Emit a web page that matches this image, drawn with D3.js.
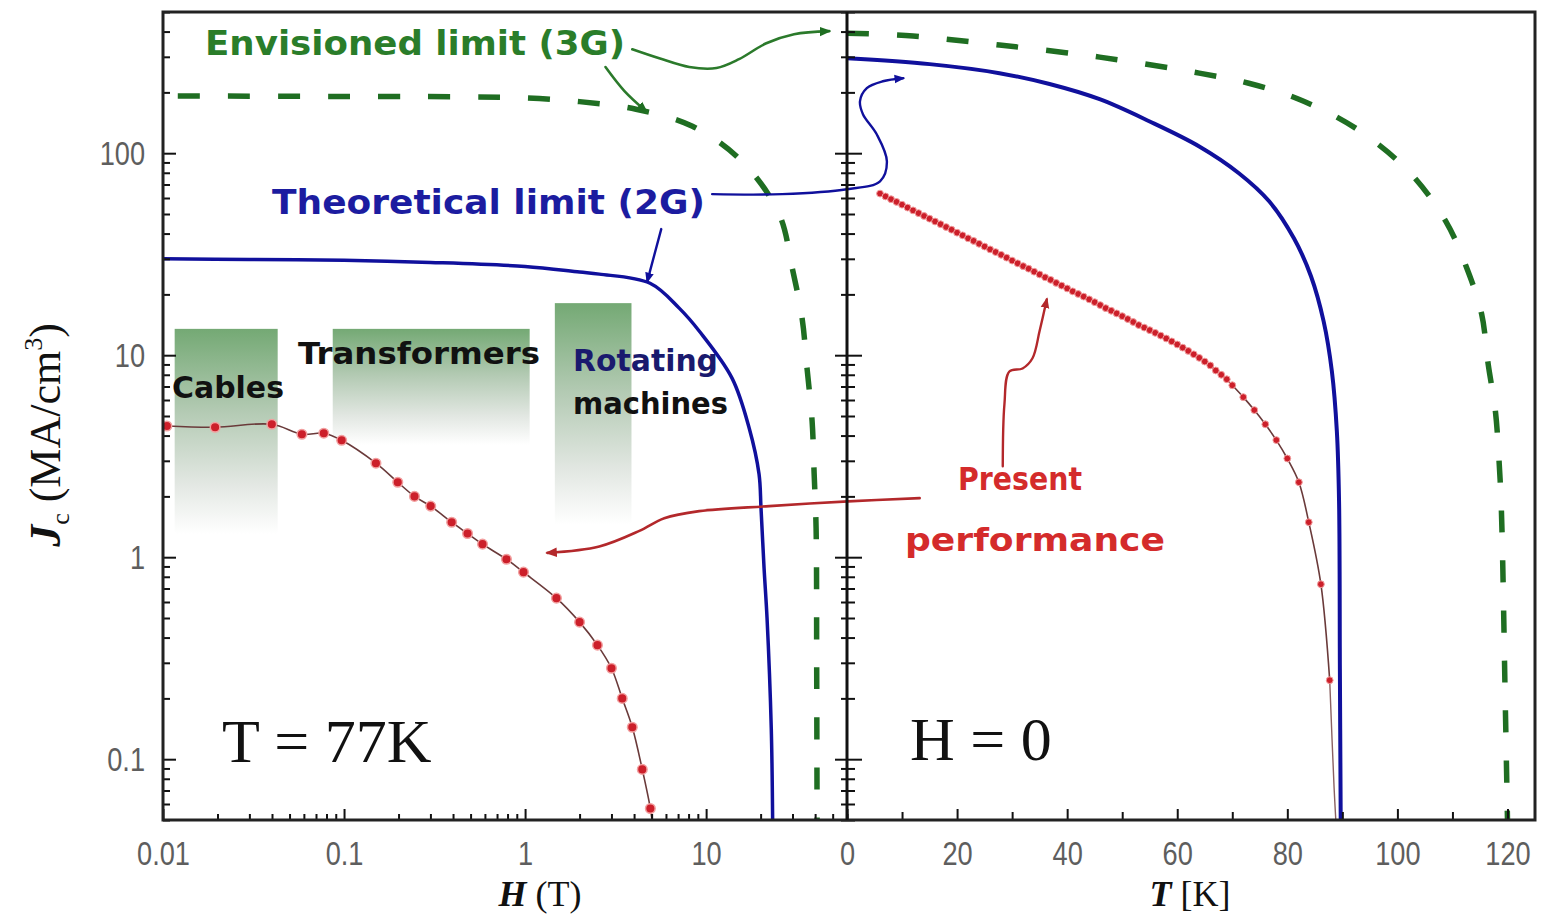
<!DOCTYPE html>
<html>
<head>
<meta charset="utf-8">
<script src="https://cdn.jsdelivr.net/npm/d3@7"></script>
<style>
  body { margin: 0; background: #fff; }
  svg { display: block; }
  .tick-label text { font-family: "Liberation Sans", Arial, sans-serif; font-size: 34px; fill: #5e5e5e; }
  .ax line { stroke: #111; stroke-width: 2; }
  .comic { font-family: "DejaVu Sans", sans-serif; font-weight: bold; }
  .serif { font-family: "Liberation Serif", "DejaVu Serif", serif; fill: #111; }
</style>
</head>
<body>
<svg id="chart" width="1548" height="919"></svg>
<script>
// --- DATA: Jc vs H at T = 77 K (MA/cm2) ---
const fieldPresentH  = [0.0105, 0.0194, 0.0399, 0.0585, 0.0773, 0.097, 0.150, 0.198, 0.245, 0.301, 0.393, 0.481, 0.582, 0.789, 0.98, 1.49, 2.0, 2.51, 3.0, 3.44, 3.91, 4.44, 4.92];
const fieldPresentJc = [4.46, 4.40, 4.55, 4.06, 4.11, 3.79, 2.92, 2.35, 2.00, 1.79, 1.49, 1.31, 1.16, 0.977, 0.843, 0.627, 0.477, 0.367, 0.282, 0.200, 0.144, 0.089, 0.057];
const field2GH  = [0.01, 0.03, 0.1, 0.3, 1, 2, 2.57, 4.9, 7.1, 9.2, 13.9, 17.3, 19.6, 20.1, 20.9, 21.7, 22.9, 23.3];
const field2GJc = [30, 29.8, 29.5, 28.8, 27.5, 25.8, 25.2, 22.7, 17.1, 13.1, 7.7, 4.35, 2.58, 1.75, 0.88, 0.50, 0.142, 0.05];
const field3GH  = [0.01, 0.1, 0.5, 1, 2, 4.1, 8.4, 15.8, 25.3, 29.9, 33.9, 36.1, 38.5, 39.5, 40.5, 40.8, 41];
const field3GJc = [192, 191, 190, 188, 180, 165, 136, 91, 50, 27, 15.2, 8.6, 4.7, 2.6, 1.39, 0.3, 0.05];

// --- DATA: Jc vs T at H = 0 ---
const tempPresentT  = [6, 7, 8, 9, 10, 11, 12, 13, 14, 15, 16, 17, 18, 19, 20, 21, 22, 23, 24, 25, 26, 27, 28, 29, 30,
                       31, 32, 33, 34, 35, 36, 37, 38, 39, 40, 41, 42, 43, 44, 45, 46, 47, 48, 49, 50, 51, 52, 53, 54, 55,
                       56, 57, 58, 59, 60, 61, 62, 63, 64, 65, 66, 67, 68, 69, 70, 72, 74, 76, 78, 80, 82.1, 83.9, 86.1, 87.7];
const tempPresentJc = [63.1, 61.1, 59.2, 57.4, 55.6, 53.8, 52.1, 50.5, 48.9, 47.4, 45.9, 44.5, 43.1, 41.8, 40.4, 39.2, 37.9, 36.8, 35.6, 34.5, 33.4, 32.4, 31.4, 30.4, 29.4,
                       28.5, 27.6, 26.8, 25.9, 25.1, 24.3, 23.6, 22.8, 22.1, 21.4, 20.7, 20.1, 19.5, 18.9, 18.3, 17.7, 17.1, 16.6, 16.1, 15.6, 15.1, 14.6, 14.1, 13.7, 13.3,
                       12.9, 12.5, 12.1, 11.7, 11.3, 10.9, 10.5, 10.1, 9.7, 9.3, 8.9, 8.4, 8.0, 7.6, 7.1, 6.2, 5.35, 4.55, 3.8, 3.08, 2.35, 1.49, 0.735, 0.246];
const tempTailT  = [87.7, 88.5, 88.9];
const tempTailJc = [0.246, 0.072, 0.045];
const temp2GT  = [0, 15, 27.7, 36.8, 45.9, 54.9, 64, 71.2, 76.7, 81.2, 84.3, 86.6, 88.1, 89.0, 89.4, 89.55, 89.7];
const temp2GJc = [295, 276, 249, 220, 185, 144, 108, 79.6, 57.8, 37.9, 24.6, 14.7, 8.3, 4.2, 1.89, 0.28, 0.05];
const temp3GT  = [0, 12, 27.7, 45.9, 64, 73, 82.1, 92.4, 102, 108.8, 112.6, 115.3, 116.5, 117.8, 118.5, 118.9, 119.6, 120];
const temp3GJc = [393, 380, 343, 299, 249, 222, 185, 133, 81.5, 46, 27, 16, 9.0, 5.3, 2.9, 1.69, 0.19, 0.05];

// --- TICKS ---
const hTickValues = [0.01, 0.1, 1, 10];
const hTickLabels = ['0.01', '0.1', '1', '10'];
const tTickValues = [0, 20, 40, 60, 80, 100, 120];
const tMinorValues = [10, 30, 50, 70, 90, 110];
const jTickValues = [0.1, 1, 10, 100];
const jTickLabels = ['0.1', '1', '10', '100'];

// --- APPLICATION RANGES (H in T, Jc in MA/cm2) ---
const appNames = ['Cables', 'Transformers', 'Rotating machines'];
const appHMin  = [0.0116, 0.0866, 1.46];
const appHMax  = [0.043, 1.06, 3.87];
const appJTop  = [13.5, 13.5, 18.1];
const appJEnd  = [1.3, 3.6, 1.45];

// --- ANNOTATION ARROWS (panel, x in data units, Jc) ---
const arrow3GRight = [['H', 3.91, 327], ['H', 5.51, 295], ['H', 8.07, 267], ['H', 11.4, 264], ['H', 15.2, 292], ['H', 21.5, 350], ['H', 30.6, 388], ['H', 47.8, 402]];
const arrow3GLeft  = [['H', 2.78, 267], ['H', 3.54, 203], ['H', 4.67, 161]];
const arrow2GRight = [['H', 10.8, 62.7], ['H', 26.3, 62.7], ['T', 0, 66.3], ['T', 6.0, 72.6], ['T', 7.25, 91], ['T', 5.4, 124], ['T', 2.9, 156], ['T', 2.36, 181], ['T', 3.6, 210], ['T', 6.5, 227], ['T', 10.2, 235]];
const arrow2GLeft  = [['H', 5.65, 42.1], ['H', 4.73, 23.2]];
const arrowPresentLeft = [['T', 13.2, 1.96], ['T', 0.2, 1.89], ['H', 22.3, 1.79], ['H', 9.16, 1.69], ['H', 5.87, 1.56], ['H', 4.28, 1.35], ['H', 2.57, 1.13], ['H', 1.33, 1.05]];
const arrowPresentUp   = [['T', 28.3, 2.82], ['T', 28.6, 5.7], ['T', 29.5, 8.3], ['T', 31.9, 8.6], ['T', 33.7, 9.66], ['T', 35.0, 13.2], ['T', 36.3, 18.9]];

const zip = (xs, ys) => xs.map((v, i) => [v, ys[i]]);

const frame = { left: 163, mid: 847, right: 1535, top: 12, bottom: 820 };
const green = '#1f6e22', blue = '#10109c', red = '#cc1f2a';

const xH = d3.scaleLog().domain([0.01, 60]).range([frame.left, frame.mid]);
const xT = d3.scaleLinear().domain([0, 125]).range([frame.mid, frame.right]);
const y = d3.scaleLog().domain([0.05, 500]).range([frame.bottom, frame.top]);

const svg = d3.select('#chart');
const defs = svg.append('defs');

// clip regions for each panel
defs.append('clipPath').attr('id', 'clip-h').append('rect')
    .attr('x', frame.left).attr('y', frame.top)
    .attr('width', frame.mid - frame.left).attr('height', frame.bottom - frame.top);
defs.append('clipPath').attr('id', 'clip-t').append('rect')
    .attr('x', frame.mid).attr('y', frame.top)
    .attr('width', frame.right - frame.mid).attr('height', frame.bottom - frame.top);

// fading green gradient for application boxes
const grad = defs.append('linearGradient').attr('id', 'app-fade')
    .attr('x1', 0).attr('y1', 0).attr('x2', 0).attr('y2', 1);
[[0, '#74a974'], [0.4, '#b3cab3'], [0.75, '#e2e7e2'], [1, '#ffffff']].forEach(s => {
    grad.append('stop').attr('offset', s[0]).attr('stop-color', s[1]);
});

// arrowheads
[['green', green], ['blue', blue], ['red', '#b3282b']].forEach(([name, col]) => {
    defs.append('marker').attr('id', 'ah-' + name)
        .attr('viewBox', '0 0 10 10').attr('refX', 8).attr('refY', 5)
        .attr('markerWidth', 4.5).attr('markerHeight', 4.5).attr('orient', 'auto')
        .append('path').attr('d', 'M0,1 L10,5 L0,9 z').attr('fill', col);
});

// --- application boxes ---
const gH = svg.append('g').attr('clip-path', 'url(#clip-h)');
appNames.forEach((name, i) => {
    gH.append('rect')
        .attr('x', xH(appHMin[i]))
        .attr('y', y(appJTop[i]))
        .attr('width', xH(appHMax[i]) - xH(appHMin[i]))
        .attr('height', y(appJEnd[i]) - y(appJTop[i]))
        .attr('fill', 'url(#app-fade)');
});

// --- curves, left panel ---
const smooth = d3.curveCatmullRom.alpha(0.5);
const lineH = d3.line().x(d => xH(d[0])).y(d => y(d[1])).curve(smooth);
const lineT = d3.line().x(d => xT(d[0])).y(d => y(d[1])).curve(smooth);

gH.append('path').attr('d', lineH(zip(field3GH, field3GJc)))
    .attr('fill', 'none').attr('stroke', green).attr('stroke-width', 5.5)
    .attr('stroke-dasharray', '22,28').attr('stroke-dashoffset', 35);
gH.append('path').attr('d', lineH(zip(field2GH, field2GJc)))
    .attr('fill', 'none').attr('stroke', blue).attr('stroke-width', 3.5);
gH.append('path').attr('d', lineH(zip(fieldPresentH, fieldPresentJc).concat([[5.1, 0.045]])))
    .attr('fill', 'none').attr('stroke', '#6a3a3a').attr('stroke-width', 1.6);
gH.selectAll('circle.pt').data(zip(fieldPresentH, fieldPresentJc)).enter()
    .append('circle').attr('class', 'pt')
    .attr('cx', d => xH(d[0])).attr('cy', d => y(d[1])).attr('r', 4.8)
    .attr('fill', red).attr('stroke', '#f2a0a0').attr('stroke-width', 1.5);

// --- curves, right panel ---
const gT = svg.append('g').attr('clip-path', 'url(#clip-t)');
gT.append('path').attr('d', lineT(zip(temp3GT, temp3GJc)))
    .attr('fill', 'none').attr('stroke', green).attr('stroke-width', 5.5)
    .attr('stroke-dasharray', '22,28').attr('stroke-dashoffset', 0);
gT.append('path').attr('d', lineT(zip(temp2GT, temp2GJc)))
    .attr('fill', 'none').attr('stroke', blue).attr('stroke-width', 4);
gT.append('path').attr('d', lineT(zip(tempPresentT, tempPresentJc)))
    .attr('fill', 'none').attr('stroke', '#6a3a3a').attr('stroke-width', 1.6);
gT.append('path').attr('d', lineT(zip(tempTailT, tempTailJc)))
    .attr('fill', 'none').attr('stroke', '#8a6060').attr('stroke-width', 1.4);
gT.selectAll('circle.pt').data(zip(tempPresentT, tempPresentJc)).enter()
    .append('circle').attr('class', 'pt')
    .attr('cx', d => xT(d[0])).attr('cy', d => y(d[1])).attr('r', 3.4)
    .attr('fill', red).attr('stroke', '#f2a0a0').attr('stroke-width', 1);

// --- annotation arrows ---
const place = p => p[0] === 'H' ? [xH(p[1]), y(p[2])] : [xT(p[1]), y(p[2])];
const arrowLine = d3.line().curve(d3.curveCatmullRom.alpha(0.5));
const drawArrow = (pts, col, name, w) => {
    svg.append('path').attr('d', arrowLine(pts.map(place)))
        .attr('fill', 'none').attr('stroke', col).attr('stroke-width', w)
        .attr('stroke-linecap', 'round').attr('marker-end', 'url(#ah-' + name + ')');
};
drawArrow(arrow3GRight, '#2b7a2b', 'green', 2.6);
drawArrow(arrow3GLeft, '#2b7a2b', 'green', 2.6);
drawArrow(arrow2GRight, blue, 'blue', 2.4);
drawArrow(arrow2GLeft, blue, 'blue', 2.4);
drawArrow(arrowPresentLeft, '#b3282b', 'red', 2.6);
drawArrow(arrowPresentUp, '#b3282b', 'red', 2.4);

// --- annotation texts ---
const comicLabel = (txt, x, yb, len, size, col) => {
    svg.append('text').attr('class', 'comic')
        .attr('x', x).attr('y', yb)
        .attr('font-size', size).attr('fill', col)
        .attr('textLength', len).attr('lengthAdjust', 'spacingAndGlyphs')
        .text(txt);
};
comicLabel('Envisioned limit (3G)', 205, 55, 420, 34, '#2a7d2a');
comicLabel('Theoretical limit (2G)', 272, 214, 433, 34, '#1c1ca0');
comicLabel('Cables', 172, 398, 112, 30, '#111');
comicLabel('Transformers', 298, 364, 242, 30, '#111');
comicLabel('Rotating', 573, 371, 145, 30, '#1a1a6e');
comicLabel('machines', 573, 414, 155, 30, '#111');
comicLabel('Present', 958, 490, 124, 32, '#d42b2b');
comicLabel('performance', 905, 551, 260, 32, '#d42b2b');

svg.append('text').attr('class', 'serif').attr('x', 222).attr('y', 762)
    .attr('font-size', 62).text('T = 77K');
svg.append('text').attr('class', 'serif').attr('x', 910).attr('y', 760)
    .attr('font-size', 62).text('H = 0');

// --- axes ---
const gAx = svg.append('g').attr('class', 'ax');
// narrow the tick labels like the original's condensed digits
const squeeze = (g, x0) => g.selectAll('text').attr('x', x0 / 0.8).attr('transform', 'scale(0.8,1)');

// bottom, H
gAx.append('g').attr('class', 'tick-label').attr('transform', `translate(0,${frame.bottom})`)
    .call(d3.axisBottom(xH).tickValues(hTickValues).tickSize(-11).tickPadding(21)
        .tickFormat((d, i) => hTickLabels[i]))
    .call(g => g.select('.domain').remove())
    .call(g => squeeze(g, 0));
const hMinor = [];
[0.01, 0.1, 1, 10].forEach(dec => { for (let k = 2; k <= 9; k++) if (dec * k <= 60) hMinor.push(dec * k); });
gAx.append('g').attr('transform', `translate(0,${frame.bottom})`)
    .call(d3.axisBottom(xH).tickValues(hMinor).tickSize(-6).tickFormat(''))
    .call(g => g.select('.domain').remove());

// bottom, T
gAx.append('g').attr('class', 'tick-label').attr('transform', `translate(0,${frame.bottom})`)
    .call(d3.axisBottom(xT).tickValues(tTickValues).tickSize(-11).tickPadding(21))
    .call(g => g.select('.domain').remove())
    .call(g => squeeze(g, 0));
gAx.append('g').attr('transform', `translate(0,${frame.bottom})`)
    .call(d3.axisBottom(xT).tickValues(tMinorValues).tickSize(-8).tickFormat(''))
    .call(g => g.select('.domain').remove());

// y, minor ticks list
const jMinor = [];
[0.01, 0.1, 1, 10, 100].forEach(dec => { for (let k = 2; k <= 9; k++) { const v = dec * k; if (v >= 0.05 && v <= 500) jMinor.push(v); } });

// left axis of H panel
gAx.append('g').attr('class', 'tick-label').attr('transform', `translate(${frame.left},0)`)
    .call(d3.axisLeft(y).tickValues(jTickValues).tickSize(-13).tickPadding(18)
        .tickFormat((d, i) => jTickLabels[i]))
    .call(g => g.select('.domain').remove())
    .call(g => squeeze(g, -18));
gAx.append('g').attr('transform', `translate(${frame.left},0)`)
    .call(d3.axisLeft(y).tickValues(jMinor).tickSize(-7).tickFormat(''))
    .call(g => g.select('.domain').remove());

// right side of H panel (ticks pointing left)
gAx.append('g').attr('transform', `translate(${frame.mid},0)`)
    .call(d3.axisRight(y).tickValues(jTickValues).tickSize(-12).tickFormat(''))
    .call(g => g.select('.domain').remove());
gAx.append('g').attr('transform', `translate(${frame.mid},0)`)
    .call(d3.axisRight(y).tickValues(jMinor).tickSize(-6).tickFormat(''))
    .call(g => g.select('.domain').remove());

// left side of T panel (ticks pointing right)
gAx.append('g').attr('transform', `translate(${frame.mid},0)`)
    .call(d3.axisLeft(y).tickValues(jTickValues).tickSize(-15).tickFormat(''))
    .call(g => g.select('.domain').remove());
gAx.append('g').attr('transform', `translate(${frame.mid},0)`)
    .call(d3.axisLeft(y).tickValues(jMinor).tickSize(-8).tickFormat(''))
    .call(g => g.select('.domain').remove());

// frame
svg.append('rect').attr('x', frame.left).attr('y', frame.top)
    .attr('width', frame.right - frame.left).attr('height', frame.bottom - frame.top)
    .attr('fill', 'none').attr('stroke', '#222').attr('stroke-width', 3);
svg.append('line').attr('x1', frame.mid).attr('x2', frame.mid)
    .attr('y1', frame.top).attr('y2', frame.bottom)
    .attr('stroke', '#111').attr('stroke-width', 3);

// --- axis titles ---
const hTitle = svg.append('text').attr('class', 'serif').attr('x', 540).attr('y', 906)
    .attr('font-size', 36).attr('text-anchor', 'middle');
hTitle.append('tspan').attr('font-weight', 'bold').attr('font-style', 'italic').text('H');
hTitle.append('tspan').text(' (T)');

const tTitle = svg.append('text').attr('class', 'serif').attr('x', 1190).attr('y', 906)
    .attr('font-size', 36).attr('text-anchor', 'middle');
tTitle.append('tspan').attr('font-weight', 'bold').attr('font-style', 'italic').text('T');
tTitle.append('tspan').text(' [K]');

const jTitle = svg.append('text').attr('class', 'serif')
    .attr('transform', 'translate(60,435) rotate(-90)')
    .attr('font-size', 44).attr('text-anchor', 'middle');
jTitle.append('tspan').attr('font-weight', 'bold').attr('font-style', 'italic').text('J');
jTitle.append('tspan').attr('font-size', 26).attr('dy', 9).text('c');
jTitle.append('tspan').attr('dy', -9).text(' (MA/cm');
jTitle.append('tspan').attr('font-size', 26).attr('dy', -18).text('3');
jTitle.append('tspan').attr('dy', 18).text(')');
</script>
</body>
</html>
